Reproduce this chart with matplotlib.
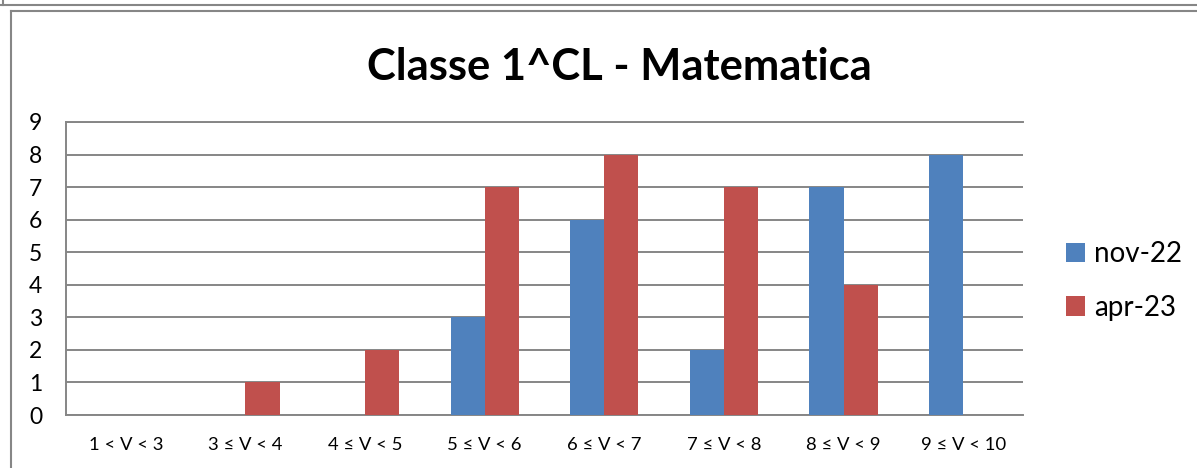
import matplotlib
matplotlib.use("Agg")
import matplotlib.pyplot as plt
from matplotlib.lines import Line2D
import numpy as np

categories = ["1 < V < 3", "3 ≤ V < 4", "4 ≤ V < 5", "5 ≤ V < 6",
              "6 ≤ V < 7", "7 ≤ V < 8", "8 ≤ V < 9", "9 ≤ V < 10"]
nov22 = [0, 0, 0, 3, 6, 2, 7, 8]
apr23 = [0, 1, 2, 7, 8, 7, 4, 0]
series_names = ["nov-22", "apr-23"]
colors = ["#4F81BD", "#C0504D"]
title = "Classe 1^CL - Matematica"

plt.rcParams['font.family'] = ['Lato', 'DejaVu Sans']

W, H = 1197, 468
fig = plt.figure(figsize=(W / 100, H / 100), dpi=100)
ax = fig.add_axes([66 / W, 1 - 415 / H, (1023 - 66) / W, (415 - 122) / H])

x = np.arange(len(categories))
bw = 0.285
ax.bar(x - bw / 2, nov22, bw, color=colors[0], label=series_names[0], zorder=3)
ax.bar(x + bw / 2, apr23, bw, color=colors[1], label=series_names[1], zorder=3)

ax.set_xlim(-0.5, len(categories) - 0.5)
ax.set_ylim(0, 9)
ax.set_yticks(range(0, 10))
ax.set_xticks(x)
ax.set_xticklabels(categories, fontsize=13.3)
ax.tick_params(axis='y', labelsize=16.5, length=0, pad=17)
ax.tick_params(axis='x', length=0, pad=16)
ax.yaxis.grid(True, color="#868686", lw=1.4, zorder=0)
ax.set_axisbelow(True)
gray = "#868686"
for s in ["right"]:
    ax.spines[s].set_visible(False)
for s in ["left", "bottom", "top"]:
    ax.spines[s].set_color(gray)
    ax.spines[s].set_linewidth(1.4)

fig.text(619 / W, 1 - 67 / H, title, ha="center", va="center",
         fontsize=31.3, fontweight="bold")

fig.legend(loc="center left", bbox_to_anchor=(1041 / W, 1 - 281 / H),
           frameon=False, fontsize=20, handlelength=0.7, handleheight=0.7,
           handletextpad=0.3, labelspacing=1.0)

# chart frame decorations
fig.add_artist(Line2D([0, 1], [1 - 4.5 / H, 1 - 4.5 / H], color=gray, lw=1.5))
fig.add_artist(Line2D([3 / W, 3 / W], [1, 1 - 4.5 / H], color=gray, lw=1.5))
fig.add_artist(Line2D([10.5 / W, 1], [1 - 10.5 / H, 1 - 10.5 / H], color=gray, lw=1.5))
fig.add_artist(Line2D([10.5 / W, 10.5 / W], [0, 1 - 10.5 / H], color=gray, lw=1.5))

fig.savefig("out.png", dpi=100)
